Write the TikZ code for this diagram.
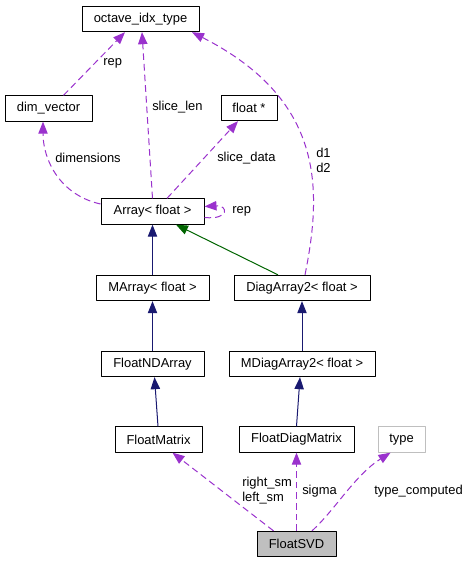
\documentclass[tikz,border=0pt]{standalone}
\usepackage{fontspec}
\setmainfont{Liberation Sans}
\usetikzlibrary{arrows.meta}
\usetikzlibrary{calc}
\definecolor{depcol}{HTML}{9A32CD}
\definecolor{inhcol}{HTML}{191970}
\definecolor{tplcol}{HTML}{006400}
\definecolor{boxgray}{HTML}{BFBFBF}
\tikzset{
  cls/.style={draw=black, fill=white, line width=0.75pt, minimum height=19pt, inner sep=0pt, font=\fontsize{9.7}{11.25}\selectfont},
  lbl/.style={anchor=west, align=left, inner sep=0pt, font=\fontsize{9.7}{11.25}\selectfont},
  dep/.style={depcol, line width=0.75pt, dash pattern=on 5pt off 3pt, -{Triangle[length=9pt,width=7pt]}},
  inh/.style={inhcol, line width=0.75pt, -{Triangle[length=9pt,width=7pt]}},
  tpl/.style={tplcol, line width=0.75pt, -{Triangle[length=9pt,width=7pt]}}
}
\begin{document}
\begin{tikzpicture}[line cap=butt,line join=round,x=0.75pt,y=-0.75pt]
% Draw region settings
\useasboundingbox (0,0) rectangle (469,563);
% Classes
\node[cls, minimum width=87.75pt] (octave) at (140.5,19) {octave\_idx\_type};
\node[cls, minimum width=65.25pt] (dimvec) at (48.5,108.5) {dim\_vector};
\node[cls, minimum width=42pt] (floatptr) at (249,108) {float *};
\node[cls, minimum width=77.25pt] (arr) at (152.5,211.5) {Array< float >};
\node[cls, minimum width=84.75pt] (marr) at (152.5,288) {MArray< float >};
\node[cls, minimum width=102pt] (diagarr) at (302,288) {DiagArray2< float >};
\node[cls, minimum width=77.25pt] (fnd) at (152.5,364) {FloatNDArray};
\node[cls, minimum width=109.5pt] (mdiag) at (302,364) {MDiagArray2< float >};
\node[cls, minimum width=65.25pt] (fmat) at (158.5,439.5) {FloatMatrix};
\node[cls, minimum width=86.25pt] (fdiag) at (296.5,439.5) {FloatDiagMatrix};
\node[cls, draw=boxgray, minimum width=35.25pt] (type) at (401.5,439.5) {type};
\node[cls, fill=boxgray, minimum width=59.25pt] (svd) at (296.5,544) {FloatSVD};
% Inheritance
\draw[inh] (marr.north) -- (arr.south);
\draw[inh] (fnd.north) -- (marr.south);
\draw[inh] ($(fmat.north)+(-0.5,0)$) -- ($(fnd.south)+(2,0)$);
\draw[inh] (mdiag.north) -- (diagarr.south);
\draw[inh] (fdiag.north) -- ($(mdiag.south)+(-2,0)$);
\draw[tpl] ($(diagarr.north)+(-24,0)$) -- ($(arr.south)+(23.5,0)$);
% Members
\draw[dep] ($(dimvec.north)+(15,0)$) -- ($(octave.south)+(-15.5,0)$);
\draw[dep] (arr.north) -- ($(octave.south)+(1.5,0)$);
\draw[dep] ($(arr.west)+(0,-7.5)$) .. controls (60,195) and (43,160) .. ($(dimvec.south)+(-5.5,0)$);
\draw[dep] ($(arr.north)+(14.5,0)$) -- ($(floatptr.south)+(-11,0)$);
\draw[dep] ($(arr.east)+(0,6)$) .. controls (230,220) and (228,205) .. ($(arr.east)+(0,-5)$);
\draw[dep] ($(diagarr.north)+(3,0)$) .. controls (322,190) and (325,100) .. ($(octave.south)+(51.5,0)$);
\draw[dep] ($(svd.north)+(-23,0)$) -- ($(fmat.south)+(14,0)$);
\draw[dep] (svd.north) -- (fdiag.south);
\draw[dep] ($(svd.north)+(15.5,0)$) .. controls (335,510) and (355,475) .. ($(type.south)+(-11,0)$);
% Member names
\node[lbl] (lrep) at (103,63) {rep};
\node[lbl] (lslicelen) at (152,107) {slice\_len};
\node[lbl] (ldims) at (55,158) {dimensions};
\node[lbl] (lslicedata) at (217,158) {slice\_data};
\node[lbl] (lself) at (232,211) {rep};
\node[lbl] (ld) at (316,160) {d1\\d2};
\node[lbl] (lsm) at (242,491) {right\_sm\\left\_sm};
\node[lbl] (lsigma) at (302,491) {sigma};
\node[lbl] (ltype) at (374,491) {type\_computed};
\end{tikzpicture}
\end{document}
